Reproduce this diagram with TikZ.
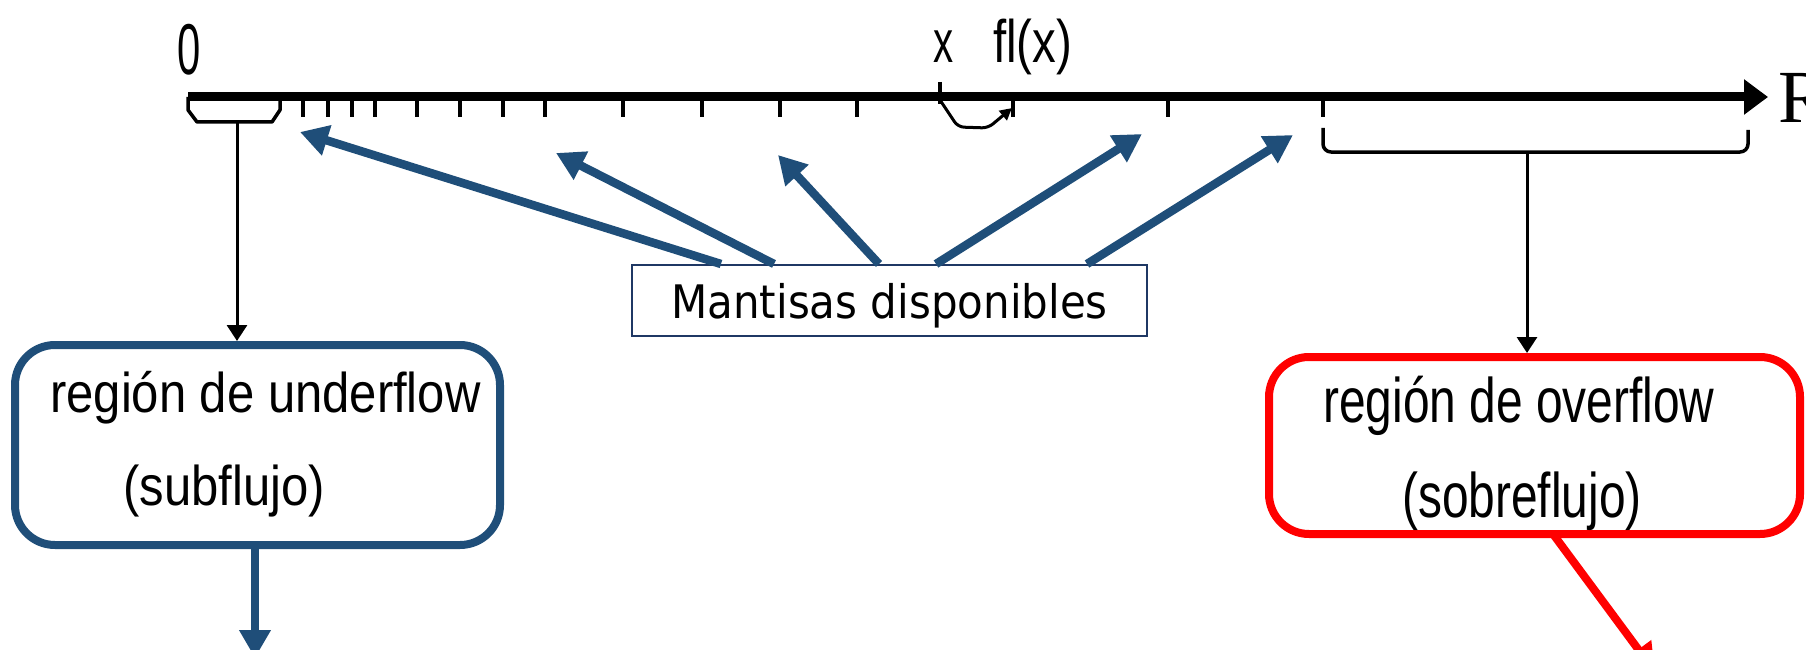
\documentclass[tikz,border=0pt]{standalone}
\usepackage{graphicx}
\usepackage{fontspec}
\setmainfont{Liberation Sans}
\newfontfamily\dejavu{DejaVu Sans}
\newfontfamily\serifR{Liberation Serif}
\usetikzlibrary{arrows.meta}
\definecolor{arrowblue}{RGB}{31,78,121}
\definecolor{navy}{RGB}{31,56,100}
\definecolor{boxred}{RGB}{255,0,0}
\begin{document}
\begin{tikzpicture}[x=1pt,y=-1pt,
  tickmark/.style={line width=3.5pt},
  axisline/.style={line width=9pt,-{Triangle[length=24pt,width=34pt]}},
  bracketline/.style={line width=3.5pt,line join=round},
  stemarrow/.style={line width=3pt,-{Triangle[length=16pt,width=20pt]}},
  bluearrow/.style={arrowblue,line width=8.5pt,-{Triangle[length=28pt,width=30pt]}},
  redarrow/.style={boxred,line width=8pt,-{Triangle[length=28pt,width=30pt]}},
  regionbox/.style={draw,line width=8pt,rounded corners=40pt,inner sep=0pt},
  lbl/.style={inner sep=0pt,anchor=base west}]
\useasboundingbox (0,0) rectangle (1806,650);

% axis
\coordinate (a0) at (188,97);
\coordinate (aend) at (1768,97);
\draw[axisline] (a0) -- (aend);
\node[lbl] (Rlbl) at (1778,123) {\fontsize{75}{80}\selectfont\serifR R};
\node[lbl] (zero) at (177,75) {\scalebox{0.58}[1]{\fontsize{72}{76}\selectfont 0}};
\node[lbl] (xl) at (933,63) {\scalebox{0.67}[1]{\fontsize{60}{64}\selectfont x}};
\node[lbl] (flx) at (993,63) {\scalebox{0.79}[1]{\fontsize{60}{64}\selectfont fl(x)}};

% ticks
\foreach \t in {303,328,352,375,417,460,503,545,623,702,780,857,1013,1168,1323}
  \draw[tickmark] (\t,97) -- (\t,117);
\draw[tickmark] (940,82) -- (940,104);

% rounding arc from x to fl(x)
\coordinate (xpt) at (940,100);
\coordinate (flpt) at (1012,108);
\draw[line width=3pt,rounded corners=6pt,-{Triangle[length=12pt,width=12pt]}]
  (xpt) -- (958,127) -- (988,128) -- (flpt);

% underflow bracket
\coordinate (ub) at (237,122);
\draw[bracketline] (188,97) -- (188,110) -- (197,122) -- (272,122) -- (280,110) -- (280,100);

% overflow bracket
\coordinate (ob) at (1527,152);
\draw[bracketline,rounded corners=8pt] (1323,128) -- (1323,152) -- (1748,152) -- (1748,130);

% region boxes
\node[regionbox,draw=arrowblue,minimum width=485pt,minimum height=200pt] (under) at (257.5,445) {};
\node[regionbox,draw=boxred,minimum width=531pt,minimum height=177pt] (over) at (1534.5,445.5) {};

\node[lbl] (u1) at (50,412) {\scalebox{0.875}[1]{\fontsize{56}{60}\selectfont región de underflow}};
\node[lbl] (u2) at (123,505) {\scalebox{0.875}[1]{\fontsize{56}{60}\selectfont (subflujo)}};
\node[lbl] (o1) at (1323,422) {\scalebox{0.76}[1]{\fontsize{63}{66}\selectfont región de overflow}};
\node[lbl] (o2) at (1402,517) {\scalebox{0.76}[1]{\fontsize{63}{66}\selectfont (sobreflujo)}};

% stems
\draw[stemarrow] (ub) -- (ub |- under.north);
\draw[stemarrow] (ob) -- (ob |- over.north);

% mantisas box
\node[draw=navy,line width=2pt,minimum width=515pt,minimum height=71pt,inner sep=0pt,
      text height=45pt,text depth=10pt] (mant) at (889.5,300.5)
      {\scalebox{1}[1.1]{\dejavu\fontsize{42}{46}\selectfont Mantisas disponibles}};

\coordinate (t1) at (300,132);
\coordinate (t2) at (556,153);
\coordinate (t3) at (778,155);
\coordinate (t4) at (1142,134);
\coordinate (t5) at (1293,135);
\draw[bluearrow] ([xshift=90pt]mant.north west) -- (t1);
\draw[bluearrow] ([xshift=143pt]mant.north west) -- (t2);
\draw[bluearrow] ([xshift=248pt]mant.north west) -- (t3);
\draw[bluearrow] ([xshift=305pt]mant.north west) -- (t4);
\draw[bluearrow] ([xshift=456pt]mant.north west) -- (t5);

% outgoing arrows
\coordinate (uend) at (255,658);
\draw[bluearrow] (uend |- under.south) -- (uend);
\coordinate (ostart) at (1553,534);
\coordinate (oend) at (1655,672);
\draw[redarrow] (ostart) -- (oend);
\end{tikzpicture}
\end{document}
